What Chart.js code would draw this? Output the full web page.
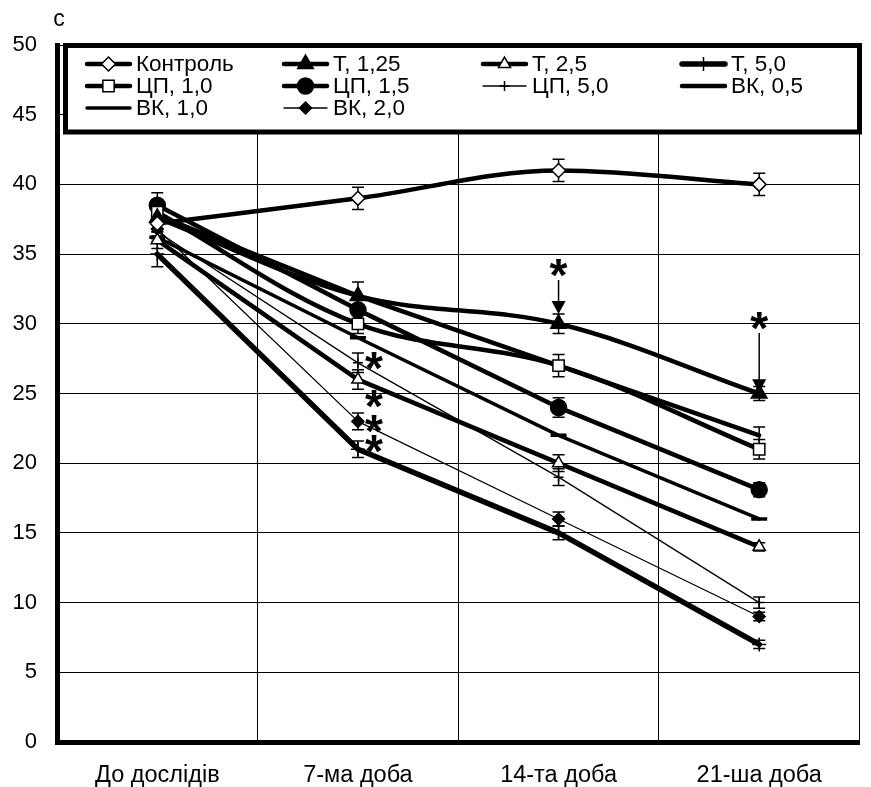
<!DOCTYPE html>
<html>
<head>
<meta charset="utf-8">
<script src="https://cdn.jsdelivr.net/npm/chart.js@4.4.1/dist/chart.umd.min.js"></script>
<style>
  html, body { margin: 0; padding: 0; background: #fff; }
</style>
</head>
<body>
<canvas id="myChart" width="871" height="787"></canvas>
<script>
// --- data ---
const categories = ['До дослідів', '7-ма доба', '14-та доба', '21-ша доба'];
const yTicks = [0, 5, 10, 15, 20, 25, 30, 35, 40, 45, 50];
const yUnit = 'с';

const seriesNames = ['Контроль', 'Т, 1,25', 'Т, 2,5', 'Т, 5,0', 'ЦП, 1,0', 'ЦП, 1,5', 'ЦП, 5,0', 'ВК, 0,5', 'ВК, 1,0', 'ВК, 2,0'];

const control = [37.2, 39, 41, 40];
const t125 = [37.6, 32, 30, 25];
const t25 = [36, 26, 20, 14];
const t50 = [35, 21, 15, 7];
const cp10 = [38, 30, 27, 21];
const cp15 = [38.5, 31, 24, 18.1];
const cp50 = [36.6, 27.2, 19, 10];
const vk05 = [37.8, 32, 27, 22];
const vk10 = [36.2, 29, 22, 16];
const vk20 = [36.8, 23, 16, 9];

// half-width of the error bars
const controlErr = [0.6, 0.8, 0.8, 0.8];
const t125Err = [0.8, 1.0, 0.7, 0.5];
const t25Err = [0.6, 0.7, 0.6, 0.3];
const t50Err = [0.9, 0.6, 0.5, 0.3];
const cp10Err = [0.8, 0.7, 0.8, 0.7];
const cp15Err = [0.9, 0.8, 0.7, 0.5];
const cp50Err = [0.5, 0.7, 0.6, 0.4];
const vk05Err = [0, 0, 0, 0.6];
const vk10Err = [0, 0, 0, 0];
const vk20Err = [0.5, 0.6, 0.5, 0.3];

// significance marks: asterisks next to points, and asterisk + arrow above Т, 1,25
const starCats = [1, 1, 1, 1];
const starValues = [27.3, 24.6, 22.8, 21.4];
const arrowCats = [2, 3];
const arrowStarValues = [34.0, 30.2];
const arrowTipValues = [31.2, 25.6];

// --- datasets ---
function ds(label, data, errs, style) {
  return Object.assign({
    label: label,
    data: data,
    errors: errs,
    borderColor: '#000',
    pointBorderColor: '#000',
    pointBackgroundColor: '#000',
    pointBorderWidth: 1.5,
    pointRadius: 0,
    pointHoverRadius: 0,
    tension: 0,
    borderJoinStyle: 'round',
    borderCapStyle: 'round',
    fill: false
  }, style);
}

const datasets = [
  ds(seriesNames[0], control, controlErr, { borderWidth: 4.5, pointStyle: 'rectRot', pointRadius: 7, pointBackgroundColor: '#fff', cubicInterpolationMode: 'monotone' }),
  ds(seriesNames[1], t125, t125Err, { borderWidth: 4.5, pointStyle: 'triangle', pointRadius: 9, tension: 0.35 }),
  ds(seriesNames[2], t25, t25Err, { borderWidth: 4.5, pointStyle: 'triangle', pointRadius: 7, pointBackgroundColor: '#fff' }),
  ds(seriesNames[3], t50, t50Err, { borderWidth: 5.5, pointStyle: 'cross', pointRadius: 7 }),
  ds(seriesNames[4], cp10, cp10Err, { borderWidth: 4.5, pointStyle: 'rect', pointRadius: 8, pointBackgroundColor: '#fff', tension: 0.35 }),
  ds(seriesNames[5], cp15, cp15Err, { borderWidth: 4.5, pointStyle: 'circle', pointRadius: 8 }),
  ds(seriesNames[6], cp50, cp50Err, { borderWidth: 1.3, pointStyle: 'cross', pointRadius: 5 }),
  ds(seriesNames[7], vk05, vk05Err, { borderWidth: 4.5 }),
  ds(seriesNames[8], vk10, vk10Err, { borderWidth: 3.5, pointStyle: 'line', pointRadius: 8, pointBorderWidth: 3.5 }),
  ds(seriesNames[9], vk20, vk20Err, { borderWidth: 1.3, pointStyle: 'rectRot', pointRadius: 6 })
];

// --- helpers ---
function drawMarker(ctx, d, x, y) {
  if (!d.pointRadius) return;
  ctx.save();
  ctx.fillStyle = d.pointBackgroundColor;
  ctx.strokeStyle = d.pointBorderColor;
  ctx.lineWidth = d.pointBorderWidth;
  Chart.helpers.drawPoint(ctx, { pointStyle: d.pointStyle, radius: d.pointRadius, rotation: 0, borderWidth: d.pointBorderWidth }, x, y);
  ctx.restore();
}

function drawAsterisk(ctx, x, y) {
  ctx.save();
  ctx.fillStyle = '#000';
  ctx.font = 'bold 46px "Liberation Sans", Arial, sans-serif';
  ctx.textAlign = 'center';
  ctx.textBaseline = 'alphabetic';
  const m = ctx.measureText('*');
  const mid = (m.actualBoundingBoxAscent - m.actualBoundingBoxDescent) / 2;
  ctx.fillText('*', x, y + mid);
  ctx.restore();
}

const errorBars = {
  id: 'errorBars',
  beforeDatasetsDraw(chart) {
    const ctx = chart.ctx;
    const xs = chart.scales.x, ys = chart.scales.y;
    ctx.save();
    ctx.strokeStyle = '#000';
    ctx.lineWidth = 1.5;
    chart.data.datasets.forEach(d => {
      d.data.forEach((v, j) => {
        const e = d.errors[j];
        if (!e) return;
        const x = xs.getPixelForValue(j);
        const y1 = ys.getPixelForValue(v + e);
        const y2 = ys.getPixelForValue(v - e);
        ctx.beginPath();
        ctx.moveTo(x, y1); ctx.lineTo(x, y2);
        ctx.moveTo(x - 6, y1); ctx.lineTo(x + 6, y1);
        ctx.moveTo(x - 6, y2); ctx.lineTo(x + 6, y2);
        ctx.stroke();
      });
    });
    ctx.restore();
  }
};

const marks = {
  id: 'marks',
  afterDatasetsDraw(chart) {
    const ctx = chart.ctx;
    const xs = chart.scales.x, ys = chart.scales.y;
    starCats.forEach((c, i) => {
      drawAsterisk(ctx, xs.getPixelForValue(c) + 16, ys.getPixelForValue(starValues[i]));
    });
    arrowCats.forEach((c, i) => {
      const x = xs.getPixelForValue(c);
      const yStar = ys.getPixelForValue(arrowStarValues[i]);
      const yTip = ys.getPixelForValue(arrowTipValues[i]);
      drawAsterisk(ctx, x, yStar);
      ctx.save();
      ctx.strokeStyle = '#000';
      ctx.fillStyle = '#000';
      ctx.lineWidth = 1.5;
      ctx.beginPath();
      ctx.moveTo(x, yStar + 12);
      ctx.lineTo(x, yTip);
      ctx.stroke();
      ctx.beginPath();
      ctx.moveTo(x - 7, yTip - 6);
      ctx.lineTo(x + 7, yTip - 6);
      ctx.lineTo(x, yTip + 7);
      ctx.closePath();
      ctx.fill();
      ctx.restore();
    });
  }
};

const boxLegend = {
  id: 'boxLegend',
  afterDraw(chart) {
    const ctx = chart.ctx;
    const a = chart.chartArea;
    // unit label above the value axis
    ctx.save();
    ctx.fillStyle = '#000';
    ctx.font = '23px "Liberation Sans", Arial, sans-serif';
    ctx.textAlign = 'center';
    ctx.textBaseline = 'middle';
    ctx.fillText(yUnit, a.left + 2, a.top - 25);

    // legend frame
    ctx.fillStyle = '#fff';
    ctx.strokeStyle = '#000';
    ctx.lineWidth = 5;
    ctx.fillRect(65.5, 45.5, 794, 86.5);
    ctx.strokeRect(65.5, 45.5, 794, 86.5);

    const colX = [87, 284, 483, 682];
    const rowY = [64, 86, 108];
    ctx.font = '22.5px "Liberation Sans", Arial, sans-serif';
    ctx.textAlign = 'left';
    chart.data.datasets.forEach((d, i) => {
      const x = colX[i % 4];
      const y = rowY[Math.floor(i / 4)];
      ctx.save();
      ctx.strokeStyle = '#000';
      ctx.lineWidth = d.borderWidth;
      ctx.lineCap = 'round';
      ctx.beginPath();
      ctx.moveTo(x, y);
      ctx.lineTo(x + 43, y);
      ctx.stroke();
      ctx.restore();
      if (d.pointStyle !== 'line') drawMarker(ctx, d, x + 21.5, y);
      ctx.fillStyle = '#000';
      ctx.fillText(d.label, x + 49, y + 1);
    });
    ctx.restore();
  }
};

const family = '"Liberation Sans", Arial, sans-serif';

new Chart(document.getElementById('myChart').getContext('2d'), {
  type: 'line',
  data: { labels: categories, datasets: datasets },
  options: {
    responsive: false,
    animation: false,
    events: [],
    layout: { padding: { top: 45, right: 9, left: 0, bottom: 0 } },
    plugins: { legend: { display: false }, tooltip: { enabled: false } },
    scales: {
      x: {
        offset: true,
        grid: { offset: true, color: '#000', lineWidth: ctx => ctx.index === categories.length ? 2 : 1, drawTicks: false },
        border: { display: true, color: '#000', width: 5 },
        ticks: { color: '#000', font: { family: family, size: 23.5 }, padding: 19, maxRotation: 0 },
        afterFit: s => { s.height = 45; }
      },
      y: {
        min: 0,
        max: 50,
        afterBuildTicks: s => { s.ticks = yTicks.map(v => ({ value: v })); },
        grid: { color: '#000', lineWidth: 1, drawTicks: false },
        border: { display: true, color: '#000', width: 5 },
        ticks: { color: '#000', font: { family: family, size: 22 }, padding: 20 },
        afterFit: s => { s.width = 57; }
      }
    }
  },
  plugins: [errorBars, marks, boxLegend]
});
</script>
</body>
</html>
